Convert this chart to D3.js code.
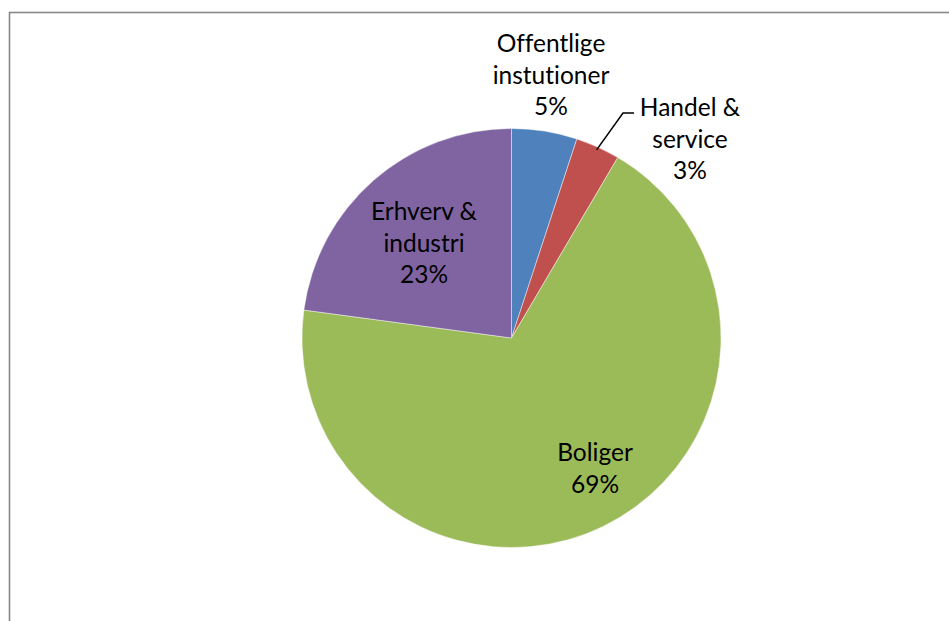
<!DOCTYPE html>
<html>
<head>
<meta charset="utf-8">
<script src="https://cdn.jsdelivr.net/npm/d3@7"></script>
<style>
  html, body { margin: 0; padding: 0; background: #fff; }
  svg { display: block; }
  text { font-family: Lato, "Noto Sans", sans-serif; fill: #000; font-variant-ligatures: none; font-feature-settings: "liga" 0; }
</style>
</head>
<body>
<svg id="chart" width="949" height="621"></svg>
<script>
// Energy consumption by sector (share, %)
const categories = ["Offentlige instutioner", "Handel & service", "Boliger", "Erhverv & industri"];
const labelLines = [["Offentlige", "instutioner"], ["Handel &", "service"], ["Boliger"], ["Erhverv &", "industri"]];
const values = [5.05, 3.42, 68.66, 22.87];
const colors = ["#4F81BD", "#C0504D", "#9BBB59", "#8064A2"];

// Label placement: centre x and first baseline y for each label block
const labelLayout = [
  { x: 551, y: 52 },
  { x: 690, y: 116 },
  { x: 595, y: 461 },
  { x: 424, y: 220 }
];
const lineHeight = 31.5;
const fontSize = 24.5;

const svg = d3.select("#chart");

// Outer frame (extends past the right and bottom of the view)
svg.append("rect")
  .attr("x", 9.5).attr("y", 12.5)
  .attr("width", 1000).attr("height", 700)
  .attr("fill", "none")
  .attr("stroke", "#878787")
  .attr("stroke-width", 1.6);

const cx = 511.5, cy = 338, r = 209.5;
const total = d3.sum(values);

const pie = d3.pie().sort(null).value(d => d);
const arcs = pie(values);
const arc = d3.arc().innerRadius(0).outerRadius(r);

const g = svg.append("g").attr("transform", `translate(${cx},${cy})`);

g.selectAll("path.slice")
  .data(arcs)
  .join("path")
  .attr("class", "slice")
  .attr("d", arc)
  .attr("fill", (d, i) => colors[i])
  .attr("stroke", "rgba(255,255,255,0.55)")
  .attr("stroke-width", 0.8);

// Leader line for the small red slice
const red = arcs[1];
const mid = (red.startAngle + red.endAngle) / 2;
const pStart = [Math.sin(mid) * (r - 3), -Math.cos(mid) * (r - 3)];
const pKnee = [labelLayout[1].x - 67 - cx, labelLayout[1].y - 3 - cy];
const pEnd = [pKnee[0] + 11, pKnee[1]];
g.append("path")
  .attr("d", d3.line()([pStart, pKnee, pEnd]))
  .attr("fill", "none")
  .attr("stroke", "#000")
  .attr("stroke-width", 1.5);

// Data labels: category name + rounded percentage
labelLines.forEach((lines, i) => {
  const pct = Math.round(values[i] / total * 100) + "%";
  const all = lines.concat([pct]);
  const t = svg.append("text")
    .attr("text-anchor", "middle")
    .attr("font-size", fontSize);
  all.forEach((s, k) => {
    t.append("tspan")
      .attr("x", labelLayout[i].x)
      .attr("y", labelLayout[i].y + k * lineHeight)
      .text(s);
  });
});
</script>
</body>
</html>
